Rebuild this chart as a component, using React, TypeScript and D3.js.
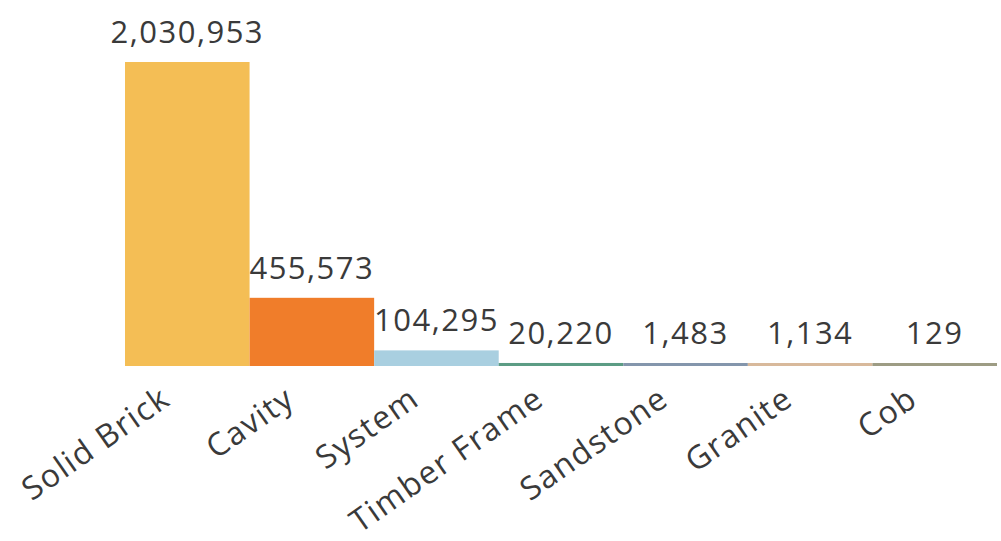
import React from "react";
import * as d3 from "d3";

const categories = ["Solid Brick", "Cavity", "System", "Timber Frame", "Sandstone", "Granite", "Cob"];
const values = [2030953, 455573, 104295, 20220, 1483, 1134, 129];
const colors = ["#F4BE55", "#F07D2A", "#A9CFE0", "#5C9C84", "#8496AC", "#D8B99B", "#9D9C84"];

const W = 1001;
const H = 541;

export default function App() {
  const x = d3.scaleBand<string>().domain(categories).range([125, 997]).padding(0);
  const y = d3.scaleLinear().domain([0, d3.max(values) as number]).range([366, 62]);
  const fmt = d3.format(",");
  const font = "'Open Sans', 'Noto Sans', sans-serif";
  return (
    <svg width={W} height={H} style={{ position: "absolute", left: 0, top: 0, background: "#fff" }}>
      {categories.map((c, i) => {
        const x0 = x(c) as number;
        const bw = x.bandwidth();
        const top = Math.min(y(values[i]), y(0) - 3);
        return (
          <g key={c}>
            <rect x={x0} y={top} width={bw} height={y(0) - top} fill={colors[i]} />
            <text
              x={x0 + bw / 2}
              y={top - 19}
              textAnchor="middle"
              fontFamily={font}
              fontSize={31}
              letterSpacing={1.5}
              fill="#3a3a3a"
            >
              {fmt(values[i])}
            </text>
            <text
              transform={`translate(${x0 + bw / 2 - 28},${y(0) + 19}) rotate(-35)`}
              textAnchor="end"
              dy="0.7em"
              fontFamily={font}
              fontSize={32}
              letterSpacing={1.5}
              fill="#3a3a3a"
            >
              {c}
            </text>
          </g>
        );
      })}
    </svg>
  );
}
